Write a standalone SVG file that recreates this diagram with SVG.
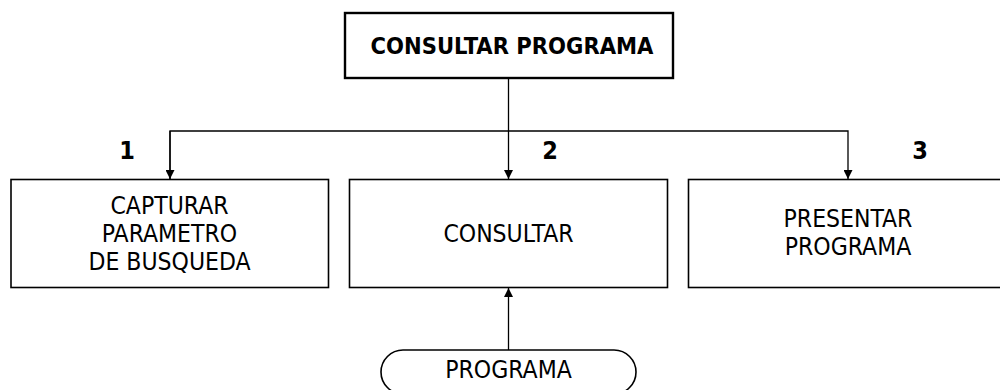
<svg xmlns="http://www.w3.org/2000/svg" width="1000" height="390" viewBox="0 0 1000 390">
  <style>
    .box { fill: #ffffff; stroke: #000000; stroke-width: 1.6; }
    .top { fill: #ffffff; stroke: #000000; stroke-width: 2.4; }
    .lbl { font-family: "DejaVu Sans Condensed", "DejaVu Sans", sans-serif; font-stretch: condensed; font-size: 24.5px; fill: #000000; text-anchor: middle; }
    .bold { font-family: "DejaVu Sans Condensed", "DejaVu Sans", sans-serif; font-stretch: condensed; font-weight: bold; font-size: 23.5px; fill: #000000; text-anchor: middle; }
    .num { font-family: "DejaVu Sans Condensed", "DejaVu Sans", sans-serif; font-stretch: condensed; font-weight: bold; font-size: 25px; fill: #000000; text-anchor: middle; }
    .conn { fill: none; stroke: #000000; stroke-width: 1.3; }
  </style>
  <defs>
    <marker id="arrow" markerWidth="10" markerHeight="9" refX="9" refY="4.5" orient="auto" markerUnits="userSpaceOnUse">
      <path d="M0,0 L9,4.5 L0,9 Z" fill="#000000"/>
    </marker>
  </defs>
  <rect width="1000" height="390" fill="#ffffff"/>

  <g id="connectors">
    <line class="conn" x1="508.5" y1="79" x2="508.5" y2="179" marker-end="url(#arrow)"/>
    <polyline class="conn" points="170,179 170,131 848,131 848,179" marker-end="url(#arrow)"/>
    <line class="conn" x1="170" y1="131" x2="170" y2="179" marker-end="url(#arrow)"/>
    <line class="conn" x1="508.5" y1="350" x2="508.5" y2="288" marker-end="url(#arrow)"/>
  </g>

  <g id="node-consultar-programa">
    <rect class="top" x="345" y="13" width="328" height="65"/>
    <text class="bold" x="512" y="54">CONSULTAR PROGRAMA</text>
  </g>

  <g id="node-capturar">
    <rect class="box" x="11" y="179.5" width="317.5" height="108"/>
    <text class="num" x="127" y="159">1</text>
    <text class="lbl" x="169.5" y="214">CAPTURAR</text>
    <text class="lbl" x="169.5" y="242">PARAMETRO</text>
    <text class="lbl" x="169.5" y="270">DE BUSQUEDA</text>
  </g>

  <g id="node-consultar">
    <rect class="box" x="349.5" y="179.5" width="318" height="108"/>
    <text class="num" x="550" y="159">2</text>
    <text class="lbl" x="508.5" y="242">CONSULTAR</text>
  </g>

  <g id="node-presentar">
    <rect class="box" x="688.5" y="179.5" width="320" height="108"/>
    <text class="num" x="920" y="159">3</text>
    <text class="lbl" x="848" y="227">PRESENTAR</text>
    <text class="lbl" x="848" y="255">PROGRAMA</text>
  </g>

  <g id="node-programa">
    <rect class="box" x="381" y="350" width="255" height="44" rx="22" ry="22"/>
    <text class="lbl" x="508.5" y="378">PROGRAMA</text>
  </g>
</svg>
